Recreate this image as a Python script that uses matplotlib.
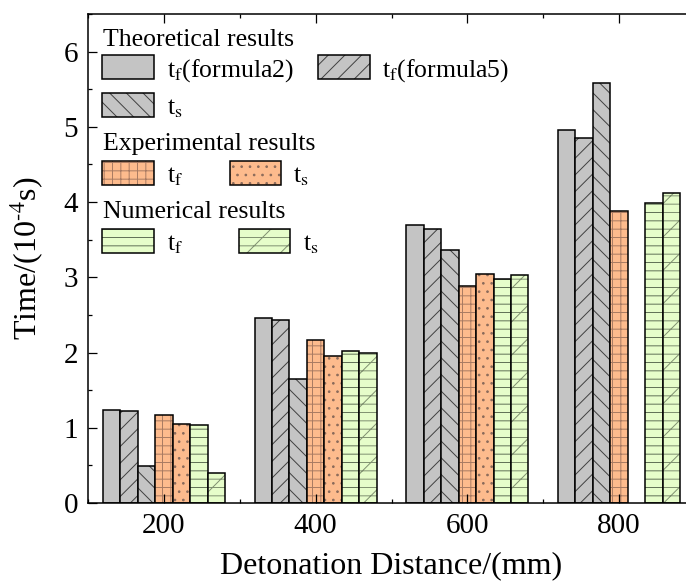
import numpy as np
import matplotlib
matplotlib.use("Agg")
import matplotlib.pyplot as plt
from matplotlib.patches import Rectangle
from matplotlib.ticker import MultipleLocator

plt.rcParams["font.family"] = "Liberation Serif"
plt.rcParams["mathtext.fontset"] = "stix"
plt.rcParams["hatch.linewidth"] = 0.7

# data (10^-4 s)
distance = [200, 400, 600, 800]
tf_formula2 = [1.23, 2.46, 3.70, 4.96]
tf_formula5 = [1.22, 2.43, 3.64, 4.85]
ts_theory = [0.49, 1.65, 3.36, 5.58]
tf_exp = [1.17, 2.17, 2.89, 3.88]
ts_exp = [1.05, 1.96, 3.05, np.nan]
tf_num = [1.04, 2.02, 2.98, 3.99]
ts_num = [0.40, 1.99, 3.03, 4.12]

series = [tf_formula2, tf_formula5, ts_theory, tf_exp, ts_exp, tf_num, ts_num]

gray, orange, green = "#c4c4c4", "#fdbb8d", "#e6fdca"
# (face, hatch, hatch colour)
styles = [
    (gray, "", "#404040"),
    (gray, "//", "#404040"),
    (gray, "\\\\", "#404040"),
    (orange, "++", "#a87a62"),
    (orange, "..", "#8a6a5a"),
    (green, "--", "#5f6f55"),
    (green, "--/", "#7f9070"),
]

W, H = 686, 584
fig = plt.figure(figsize=(W / 100, H / 100), dpi=100)
ax = fig.add_axes([88 / W, 1 - 503 / H, (695 - 88) / W, (503 - 14) / H])

width = 23
x = np.array(distance)
for i, (vals, (fc, hatch, hc)) in enumerate(zip(series, styles)):
    pos = x + (i - 3) * width
    ax.bar(pos, vals, width, color=fc, edgecolor=hc, hatch=hatch, linewidth=0)
    ax.bar(pos, vals, width, fill=False, edgecolor="black", linewidth=1.1)

ax.set_xlim(100, 900)
ax.set_ylim(0, 6.5)
ax.set_xticks(distance)
ax.xaxis.set_minor_locator(MultipleLocator(100))
ax.yaxis.set_major_locator(MultipleLocator(1))
ax.yaxis.set_minor_locator(MultipleLocator(0.5))
ax.tick_params(which="both", direction="in", top=True, right=True, width=0.9,
               labelsize=21)
ax.tick_params(which="major", length=6.5, pad=7)
ax.tick_params(which="minor", length=3.2)
for sp in ax.spines.values():
    sp.set_linewidth(1.1)

ax.set_xlabel("Detonation Distance/(mm)", fontsize=23, labelpad=9)
ax.set_ylabel("Time/(10$^{\u2010 4}$s)", fontsize=23, labelpad=13)


# legend drawn by hand, pixel positions
def legend_box(x0, x1, y0, y1, style):
    fc, hatch, hc = style
    xy = (x0 / W, 1 - y1 / H)
    w, h = (x1 - x0) / W, (y1 - y0) / H
    fig.add_artist(Rectangle(xy, w, h, transform=fig.transFigure, facecolor=fc,
                             edgecolor=hc, hatch=hatch, linewidth=0))
    fig.add_artist(Rectangle(xy, w, h, transform=fig.transFigure, fill=False,
                             edgecolor="black", linewidth=1.1))


def legend_text(xp, yp, s):
    fig.text(xp / W, 1 - yp / H, s, fontsize=18.5, va="baseline", ha="left")


legend_text(103, 46, "Theoretical results")
legend_box(102, 154, 55, 79, styles[0])
legend_text(167, 77, "t$_\\mathrm{f}$(formula2)")
legend_box(318, 370, 55, 79, styles[1])
legend_text(382, 77, "t$_\\mathrm{f}$(formula5)")
legend_box(102, 154, 93, 117, styles[2])
legend_text(167, 114, "t$_\\mathrm{s}$")

legend_text(103, 150, "Experimental results")
legend_box(102, 154, 161, 185, styles[3])
legend_text(167, 182, "t$_\\mathrm{f}$")
legend_box(230, 281, 161, 185, styles[4])
legend_text(293, 182, "t$_\\mathrm{s}$")

legend_text(103, 218, "Numerical results")
legend_box(102, 154, 229, 253, styles[5])
legend_text(167, 250, "t$_\\mathrm{f}$")
legend_box(239, 290, 229, 253, styles[6])
legend_text(303, 250, "t$_\\mathrm{s}$")

fig.savefig("out.png", dpi=100)
